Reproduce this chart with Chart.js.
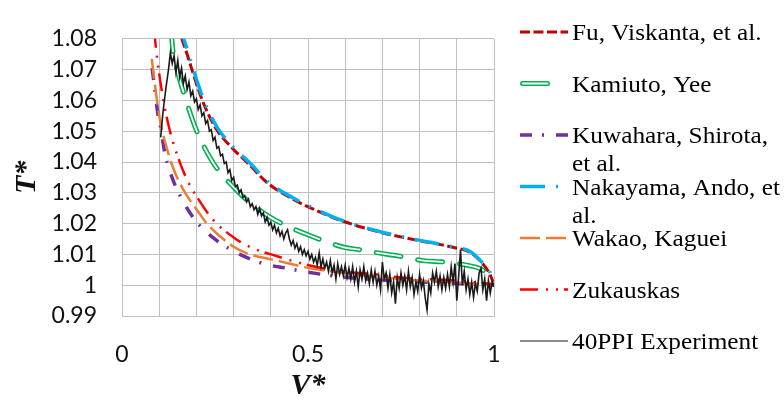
<!DOCTYPE html>
<html>
<head>
<meta charset="utf-8">
<script src="https://cdn.jsdelivr.net/npm/chart.js@4.4.0/dist/chart.umd.min.js"></script>
<style>
  html, body { margin: 0; padding: 0; background: #fff; }
  #wrap { width: 784px; height: 405px; }
</style>
</head>
<body>
<div id="wrap"><canvas id="chart" width="784" height="405"></canvas></div>
<script>
  // ── correlations: V* and T* pairs ──
  const fuV = [0.150, 0.161, 0.175, 0.188, 0.216, 0.253, 0.298, 0.342, 0.388, 0.458, 0.520, 0.586, 0.685, 0.780, 0.890, 0.935, 0.962, 0.984, 0.997, 1.000];
  const fuT = [1.0845, 1.0800, 1.0750, 1.0700, 1.0600, 1.0508, 1.0443, 1.0392, 1.0335, 1.0280, 1.0244, 1.0211, 1.0175, 1.0149, 1.0123, 1.0107, 1.0080, 1.0046, 1.0012, 1.0000];

  const kamV = [0.130, 0.134, 0.137, 0.150, 0.175, 0.200, 0.242, 0.263, 0.298, 0.336, 0.398, 0.446, 0.487, 0.594, 0.640, 0.667, 0.747, 0.815, 0.860, 0.930, 0.970, 0.995, 1.000];
  const kamT = [1.0840, 1.0797, 1.0760, 1.0690, 1.0590, 1.0503, 1.0403, 1.0367, 1.0321, 1.0276, 1.0221, 1.0191, 1.0170, 1.0124, 1.0115, 1.0109, 1.0094, 1.0079, 1.0076, 1.0064, 1.0049, 1.0018, 1.0005];

  const kuwV = [0.081, 0.083, 0.089, 0.097, 0.102, 0.116, 0.137, 0.160, 0.196, 0.255, 0.317, 0.380, 0.443, 0.500, 0.613, 0.685, 0.810, 0.900, 1.000];
  const kuwT = [1.0705, 1.0685, 1.0630, 1.0550, 1.0524, 1.0424, 1.0342, 1.0282, 1.0212, 1.0145, 1.0100, 1.0070, 1.0055, 1.0042, 1.0024, 1.0018, 1.0010, 1.0006, 1.0000];

  const nakV = [0.153, 0.166, 0.178, 0.192, 0.220, 0.257, 0.302, 0.346, 0.392, 0.462, 0.522, 0.588, 0.687, 0.782, 0.892, 0.937, 0.964, 0.986, 0.998, 1.000];
  const nakT = [1.0845, 1.0800, 1.0755, 1.0700, 1.0600, 1.0510, 1.0445, 1.0394, 1.0336, 1.0282, 1.0246, 1.0212, 1.0176, 1.0150, 1.0124, 1.0109, 1.0079, 1.0049, 1.0015, 1.0005];

  const wakV = [0.080, 0.082, 0.094, 0.105, 0.116, 0.137, 0.164, 0.210, 0.228, 0.300, 0.344, 0.406, 0.433, 0.505, 0.594, 0.685, 0.800, 0.900, 1.000];
  const wakT = [1.0735, 1.0715, 1.0600, 1.0518, 1.0464, 1.0382, 1.0312, 1.0230, 1.0200, 1.0125, 1.0100, 1.0083, 1.0075, 1.0055, 1.0040, 1.0027, 1.0015, 1.0008, 1.0002];

  const zukV = [0.087, 0.089, 0.102, 0.116, 0.129, 0.148, 0.175, 0.204, 0.245, 0.300, 0.344, 0.417, 0.505, 0.594, 0.685, 0.755, 0.900, 1.000];
  const zukT = [1.0830, 1.0797, 1.0670, 1.0570, 1.0500, 1.0424, 1.0342, 1.0282, 1.0212, 1.0155, 1.0124, 1.0094, 1.0064, 1.0045, 1.0035, 1.0024, 1.0015, 1.0003];

  // ── 40PPI measurement ──
  const expV = [
    0.104, 0.110, 0.118, 0.125,
    0.130, 0.135, 0.140, 0.145, 0.150, 0.155, 0.160, 0.165, 0.170, 0.175,
    0.180, 0.185, 0.190, 0.195, 0.200, 0.205, 0.210, 0.215, 0.220, 0.225,
    0.230, 0.235, 0.240, 0.245, 0.250, 0.255, 0.260, 0.265, 0.270, 0.275,
    0.280, 0.285, 0.290, 0.295, 0.300, 0.305, 0.310, 0.315, 0.320, 0.325,
    0.330, 0.335, 0.340, 0.345, 0.350, 0.355, 0.360, 0.365, 0.370, 0.375,
    0.380, 0.385, 0.390, 0.395, 0.400, 0.405, 0.410, 0.415, 0.420, 0.425,
    0.430, 0.435, 0.440, 0.445, 0.450, 0.455, 0.460, 0.465, 0.470, 0.475,
    0.480, 0.485, 0.490, 0.495, 0.500, 0.505, 0.510, 0.515, 0.520, 0.525,
    0.530, 0.535, 0.540, 0.545, 0.550, 0.555, 0.560, 0.565, 0.570, 0.575,
    0.580, 0.585, 0.590, 0.595, 0.600, 0.605, 0.610, 0.615, 0.620, 0.625,
    0.630, 0.635, 0.640, 0.645, 0.650, 0.655, 0.660, 0.665, 0.670, 0.675,
    0.680, 0.685, 0.690, 0.695, 0.700, 0.705, 0.710, 0.715, 0.720, 0.725,
    0.730, 0.735, 0.740, 0.745, 0.750, 0.755, 0.760, 0.765, 0.770, 0.775,
    0.780, 0.785, 0.790, 0.795, 0.800, 0.805, 0.810, 0.815, 0.820, 0.825,
    0.830, 0.835, 0.840, 0.845, 0.850, 0.855, 0.860, 0.865, 0.870, 0.875,
    0.880, 0.885, 0.890, 0.895, 0.900, 0.905, 0.910, 0.915, 0.920, 0.925,
    0.930, 0.935, 0.940, 0.945, 0.950, 0.955, 0.960, 0.965, 0.970, 0.975,
    0.980, 0.985, 0.990, 0.995, 1.000
  ];
  const expT = [
    1.0480, 1.0560, 1.0640, 1.0700,
    1.0755, 1.0720, 1.0745, 1.0690, 1.0730, 1.0675, 1.0705, 1.0655, 1.0680, 1.0635,
    1.0660, 1.0615, 1.0630, 1.0595, 1.0605, 1.0570, 1.0585, 1.0550, 1.0560, 1.0525,
    1.0535, 1.0500, 1.0505, 1.0470, 1.0480, 1.0445, 1.0450, 1.0420, 1.0425, 1.0395,
    1.0400, 1.0365, 1.0375, 1.0340, 1.0350, 1.0320, 1.0325, 1.0300, 1.0310, 1.0285,
    1.0290, 1.0270, 1.0280, 1.0255, 1.0265, 1.0245, 1.0255, 1.0230, 1.0250, 1.0225,
    1.0235, 1.0205, 1.0220, 1.0195, 1.0205, 1.0180, 1.0195, 1.0170, 1.0185, 1.0160,
    1.0175, 1.0150, 1.0170, 1.0180, 1.0150, 1.0130, 1.0145, 1.0120, 1.0135, 1.0110,
    1.0125, 1.0100, 1.0115, 1.0095, 1.0110, 1.0085, 1.0100, 1.0075, 1.0090, 1.0065,
    1.0105, 1.0060, 1.0085, 1.0055, 1.0075, 1.0045, 1.0080, 1.0040, 1.0065, 1.0020,
    1.0070, 1.0035, 1.0060, 1.0030, 1.0065, 1.0025, 1.0055, 1.0020, 1.0060, 1.0010,
    1.0045, 0.9995, 1.0050, 1.0020, 1.0060, 1.0015, 1.0040, 1.0005, 1.0050, 1.0010,
    1.0045, 1.0000, 1.0030, 0.9985, 1.0075, 1.0020, 1.0040, 0.9990, 1.0035, 0.9975,
    1.0010, 0.9940, 1.0025, 0.9990, 1.0040, 1.0000, 1.0030, 0.9985, 1.0045, 0.9995,
    1.0025, 0.9970, 1.0010, 0.9980, 1.0035, 0.9990, 1.0015, 0.9960, 0.9920, 1.0005,
    0.9975, 1.0040, 1.0010, 1.0045, 0.9995, 1.0030, 0.9985, 1.0025, 0.9990, 1.0035,
    0.9995, 1.0060, 1.0010, 1.0070, 0.9950, 1.0030, 1.0115, 1.0000, 1.0045, 0.9985,
    1.0020, 0.9970, 1.0010, 0.9960, 1.0005, 0.9980, 1.0040, 1.0055, 0.9985, 1.0020,
    0.9950, 1.0015, 0.9975, 1.0010, 0.9995
  ];

  // axis ranges / labelled ticks
  const vRange = [0, 1];
  const tRange = [0.99, 1.08];
  const vLabels = [0, 0.5, 1];

  const gridColor = '#bfbfbf';
  const pts = (vs, ts) => vs.map((v, i) => ({ x: v, y: ts[i] }));

  // line styles (shared by plot and side legend)
  const fuStyle  = { borderColor: '#c00000', borderWidth: 3,   borderDash: [10, 3.5] };
  const kamOuter = { borderColor: '#00b050', borderWidth: 5,   borderDash: [25, 17], borderCapStyle: 'round' };
  const kamInner = { borderColor: '#ffffff', borderWidth: 1.8, borderDash: [25, 17], borderCapStyle: 'round' };
  const kuwStyle = { borderColor: '#7030a0', borderWidth: 3.5, borderDash: [12, 10, 2, 12] };
  const nakStyle = { borderColor: '#00b0f0', borderWidth: 3.5, borderDash: [25, 11, 2, 11] };
  const wakStyle = { borderColor: '#ed7d31', borderWidth: 2.5, borderDash: [20, 6] };
  const zukStyle = { borderColor: '#ff0000', borderWidth: 2.5, borderDash: [18, 8, 2, 8, 2, 6] };
  const expStyle = { borderColor: '#1a1a1a', borderWidth: 1.6, borderDash: [] };

  const smooth = { showLine: true, pointRadius: 0, cubicInterpolationMode: 'monotone', fill: false };

  // later series sit on top (lower order = drawn later)
  const datasets = [
    { label: 'Fu, Viskanta, et al.', data: pts(fuV, fuT), ...smooth, ...fuStyle, order: 10 },
    { label: 'Kamiuto, Yee', data: pts(kamV, kamT), ...smooth, ...kamOuter, order: 9 },
    { label: 'kam-inner', data: pts(kamV, kamT), ...smooth, ...kamInner, order: 8.5 },
    { label: 'Kuwahara, Shirota, et al.', data: pts(kuwV, kuwT), ...smooth, ...kuwStyle, order: 8 },
    { label: 'Nakayama, Ando, et al.', data: pts(nakV, nakT), ...smooth, ...nakStyle, order: 7 },
    { label: 'Wakao, Kaguei', data: pts(wakV, wakT), ...smooth, ...wakStyle, order: 6 },
    { label: 'Zukauskas', data: pts(zukV, zukT), ...smooth, ...zukStyle, order: 5 },
    { label: '40PPI Experiment', data: pts(expV, expT), showLine: true, pointRadius: 0, tension: 0, ...expStyle, order: 1 }
  ];

  const legendItems = [
    { lines: ['Fu, Viskanta, et al.'], strokes: [fuStyle] },
    { lines: ['Kamiuto, Yee'], strokes: [kamOuter, kamInner], from: 522.5, to: 550.5 },
    { lines: ['Kuwahara, Shirota,', 'et al.'], strokes: [kuwStyle] },
    { lines: ['Nakayama, Ando, et', 'al.'], strokes: [nakStyle] },
    { lines: ['Wakao, Kaguei'], strokes: [wakStyle] },
    { lines: ['Zukauskas'], strokes: [zukStyle] },
    { lines: ['40PPI Experiment'], strokes: [{ ...expStyle, borderWidth: 1.2 }] }
  ];

  // legend on the right with wrapped labels
  const sideLegend = {
    id: 'sideLegend',
    afterDraw(chart) {
      const ctx = chart.ctx;
      ctx.save();
      legendItems.forEach((item, i) => {
        const y = 32 + i * 51.5;
        item.strokes.forEach(s => {
          ctx.beginPath();
          ctx.setLineDash(s.borderDash);
          ctx.lineWidth = s.borderWidth;
          ctx.strokeStyle = s.borderColor;
          ctx.lineCap = s.borderCapStyle || 'butt';
          ctx.moveTo(item.from || 520, y);
          ctx.lineTo(item.to || 568, y);
          ctx.stroke();
        });
        // text is a touch wider than the plain serif face
        ctx.save();
        ctx.translate(572, 0);
        ctx.scale(1.1, 1);
        ctx.font = '23px "Liberation Serif", "Times New Roman", serif';
        ctx.fillStyle = '#000';
        ctx.textBaseline = 'middle';
        item.lines.forEach((t, k) => ctx.fillText(t, 0, y + 2 + k * 28));
        ctx.restore();
      });
      ctx.restore();
    }
  };

  const tickFont = { family: 'Lato', size: 23 };
  const titleFont = { family: '"Liberation Serif", "Times New Roman", serif', size: 30, weight: 'bold', style: 'italic', lineHeight: 1 };

  new Chart(document.getElementById('chart').getContext('2d'), {
    type: 'scatter',
    data: { datasets },
    options: {
      responsive: false,
      animation: false,
      devicePixelRatio: 1,
      layout: { padding: { left: 0, right: 290, top: 19, bottom: 0 } },
      plugins: { legend: { display: false }, tooltip: { enabled: false } },
      scales: {
        x: {
          type: 'linear', min: vRange[0], max: vRange[1],
          afterFit: s => { s.height = 89; },
          grid: { color: gridColor, drawTicks: false },
          border: { color: gridColor },
          ticks: {
            stepSize: 0.1, autoSkip: false, maxRotation: 0, padding: 25, color: '#111', font: tickFont,
            callback: v => vLabels.some(l => Math.abs(l - v) < 1e-6) ? String(Math.round(v * 10) / 10) : ''
          },
          title: { display: true, text: 'V*', color: '#111', font: titleFont, padding: { top: 0, bottom: 4 } }
        },
        y: {
          type: 'linear', min: tRange[0], max: tRange[1],
          afterFit: s => { s.width = 122; },
          grid: { color: gridColor, drawTicks: false },
          border: { color: gridColor },
          ticks: {
            stepSize: 0.01, padding: 25, color: '#111', font: tickFont,
            callback: v => String(+v.toFixed(2))
          },
          title: { display: true, text: 'T*', color: '#111', font: titleFont, padding: { top: 12, bottom: 0 } }
        }
      }
    },
    plugins: [sideLegend]
  });
</script>
</body>
</html>
